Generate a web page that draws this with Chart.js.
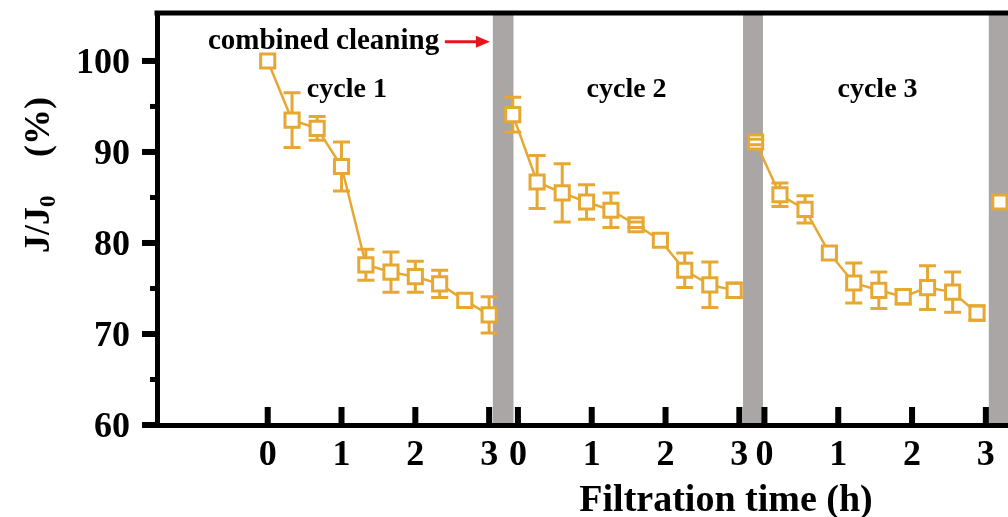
<!DOCTYPE html>
<html>
<head>
<meta charset="utf-8">
<script src="https://cdn.jsdelivr.net/npm/chart.js@4.4.1/dist/chart.umd.min.js"></script>
<style>
html, body { margin: 0; padding: 0; background: #fff; }
#chartContainer { width: 1008px; height: 517px; }
</style>
</head>
<body>
<div id="chartContainer"><canvas id="myChart" width="1008" height="517"></canvas></div>
<script>
// horas de filtracion dentro de cada ciclo
const hours = [0, 0.33, 0.67, 1, 1.33, 1.67, 2, 2.33, 2.67, 3];
// J/J0 (%) y su error de cada ciclo
const cycle1 = [100, 93.5, 92.6, 88.4, 77.6, 76.8, 76.3, 75.5, 73.7, 72.1];
const err1 = [0, 3.0, 1.3, 2.7, 1.7, 2.2, 1.7, 1.5, 0, 2.0];
const cycle2 = [94.1, 86.7, 85.5, 84.5, 83.6, 82.0, 80.3, 77.0, 75.4, 74.8];
const err2 = [1.9, 2.9, 3.2, 1.9, 1.9, 0.3, 0, 1.9, 2.5, 0.8];
const cycle3 = [91.1, 85.3, 83.7, 78.9, 75.6, 74.8, 74.1, 75.1, 74.6, 72.3];
const err3 = [0.3, 1.3, 1.5, 0, 2.2, 2.0, 0.8, 2.4, 2.2, 0.8];
const cycle4 = [84.5];
const err4 = [0];
// inicio de cada ciclo sobre el eje continuo
const cycleStart = [0, 3.32, 6.61, 9.92];
const tickStart = [0, 3.39, 6.73];
const hourTicks = [0, 1, 2, 3];
const tickLabels = ['0', '1', '2', '3'];
// limpieza combinada (bandas grises)
const bands = [[3.05, 3.33], [6.44, 6.71], [9.77, 10.3]];
const yTicks = [60, 70, 80, 90, 100];
const yMinor = [65, 75, 85, 95];
const cycleNames = ['cycle 1', 'cycle 2', 'cycle 3'];
const cycleLabelX = [0.53, 4.32, 7.72];

const gold = '#E6A833';
const serif = '"Liberation Serif", "Times New Roman", serif';
const allCycles = [cycle1, cycle2, cycle3, cycle4];
const allErrs = [err1, err2, err3, err4];

const datasets = allCycles.map((vals, k) => ({
    data: vals.map((v, i) => ({ x: cycleStart[k] + hours[i], y: v })),
    showLine: true,
    borderColor: gold,
    borderWidth: 2.5,
    pointStyle: 'rect',
    pointRadius: 10,
    pointBorderWidth: 3,
    pointBorderColor: gold,
    pointBackgroundColor: '#fff'
}));

// bandas grises detras de todo
const bandPlugin = {
    id: 'bands',
    beforeDraw(chart) {
        const { ctx, chartArea, scales: { x } } = chart;
        ctx.save();
        ctx.beginPath();
        ctx.rect(chartArea.left, 0, chartArea.right - chartArea.left, chartArea.bottom);
        ctx.clip();
        ctx.fillStyle = '#AAA6A6';
        bands.forEach(b => {
            const x0 = x.getPixelForValue(b[0]);
            const x1 = x.getPixelForValue(b[1]);
            ctx.fillRect(x0, chartArea.top, x1 - x0, chartArea.bottom - chartArea.top);
        });
        ctx.restore();
    }
};

// barras de error
const errorPlugin = {
    id: 'errors',
    afterDatasetsDraw(chart) {
        const { ctx, scales: { x, y } } = chart;
        ctx.save();
        ctx.strokeStyle = gold;
        ctx.lineWidth = 3;
        allCycles.forEach((vals, k) => vals.forEach((v, i) => {
            const e = allErrs[k][i];
            if (!e) return;
            const cx = x.getPixelForValue(cycleStart[k] + hours[i]);
            const cy = y.getPixelForValue(v);
            const top = y.getPixelForValue(v + e);
            const bot = y.getPixelForValue(v - e);
            const half = 7;
            ctx.beginPath();
            if (top < cy - half) { ctx.moveTo(cx, cy - half); ctx.lineTo(cx, top); }
            if (bot > cy + half) { ctx.moveTo(cx, cy + half); ctx.lineTo(cx, bot); }
            ctx.moveTo(cx - 8.5, top); ctx.lineTo(cx + 8.5, top);
            ctx.moveTo(cx - 8.5, bot); ctx.lineTo(cx + 8.5, bot);
            ctx.stroke();
        }));
        ctx.restore();
    }
};

// ejes, marcas, etiquetas y textos
const axesPlugin = {
    id: 'axes',
    afterDraw(chart) {
        const { ctx, chartArea, scales: { x, y } } = chart;
        ctx.save();
        ctx.fillStyle = '#000';
        // marco superior
        ctx.fillRect(chartArea.left - 2.5, chartArea.top - 2.5, chartArea.right - chartArea.left + 5, 5);
        // marcas x hacia dentro
        ctx.font = 'bold 36px ' + serif;
        ctx.textAlign = 'center';
        ctx.textBaseline = 'alphabetic';
        tickStart.forEach(s => hourTicks.forEach((h, j) => {
            const tx = x.getPixelForValue(s + h);
            ctx.fillRect(tx - 3, chartArea.bottom - 18, 6, 18);
            ctx.fillText(tickLabels[j], tx, 465);
        }));
        // marcas y hacia fuera
        ctx.textAlign = 'right';
        yTicks.forEach(v => {
            const ty = y.getPixelForValue(v);
            ctx.fillRect(chartArea.left - 15, ty - 3, 15, 6);
            ctx.fillText(String(v), 130, ty + 12);
        });
        yMinor.forEach(v => {
            const ty = y.getPixelForValue(v);
            ctx.fillRect(chartArea.left - 7, ty - 2.5, 7, 5);
        });
        // titulo eje x
        ctx.textAlign = 'center';
        ctx.font = 'bold 38px ' + serif;
        ctx.fillText('Filtration time (h)', 726, 511);
        // titulo eje y con subindice
        ctx.save();
        ctx.translate(49, 253);
        ctx.rotate(-Math.PI / 2);
        ctx.textAlign = 'left';
        ctx.font = 'bold 36px ' + serif;
        ctx.fillText('J/J', 0, 0);
        const w = ctx.measureText('J/J').width;
        ctx.font = 'bold 23px ' + serif;
        ctx.fillText('0', w, 6);
        ctx.font = 'bold 36px ' + serif;
        ctx.fillText('(%)', 96, 0);
        ctx.restore();
        // etiquetas de ciclo
        ctx.textAlign = 'left';
        ctx.font = 'bold 28px ' + serif;
        cycleNames.forEach((name, k) => {
            ctx.fillText(name, x.getPixelForValue(cycleLabelX[k]), y.getPixelForValue(96.0));
        });
        // combined cleaning + flecha
        ctx.font = 'bold 29px ' + serif;
        ctx.fillText('combined cleaning', x.getPixelForValue(-0.81), y.getPixelForValue(101.3));
        const ay = y.getPixelForValue(102.1);
        const ax0 = x.getPixelForValue(2.40);
        const ax1 = x.getPixelForValue(3.01);
        ctx.strokeStyle = '#E8141B';
        ctx.fillStyle = '#E8141B';
        ctx.lineWidth = 3;
        ctx.beginPath();
        ctx.moveTo(ax0, ay);
        ctx.lineTo(ax1 - 10, ay);
        ctx.stroke();
        ctx.beginPath();
        ctx.moveTo(ax1, ay);
        ctx.lineTo(ax1 - 14, ay - 6);
        ctx.lineTo(ax1 - 14, ay + 6);
        ctx.closePath();
        ctx.fill();
        ctx.restore();
    }
};

const ctx = document.getElementById('myChart').getContext('2d');
new Chart(ctx, {
    type: 'scatter',
    data: { datasets: datasets },
    options: {
        responsive: false,
        animation: false,
        devicePixelRatio: 1,
        layout: { autoPadding: false, padding: { top: 13, left: 0, right: 0, bottom: 0 } },
        plugins: { legend: { display: false }, tooltip: { enabled: false } },
        scales: {
            x: {
                type: 'linear',
                min: -1.50,
                max: 10.03,
                ticks: { display: false },
                grid: { display: false },
                border: { display: true, color: '#000', width: 5 },
                afterFit: s => { s.height = 92; }
            },
            y: {
                type: 'linear',
                min: 60,
                max: 105.27,
                ticks: { display: false },
                grid: { display: false },
                border: { display: true, color: '#000', width: 5 },
                afterFit: s => { s.width = 157; }
            }
        }
    },
    plugins: [bandPlugin, errorPlugin, axesPlugin]
});
</script>
</body>
</html>
